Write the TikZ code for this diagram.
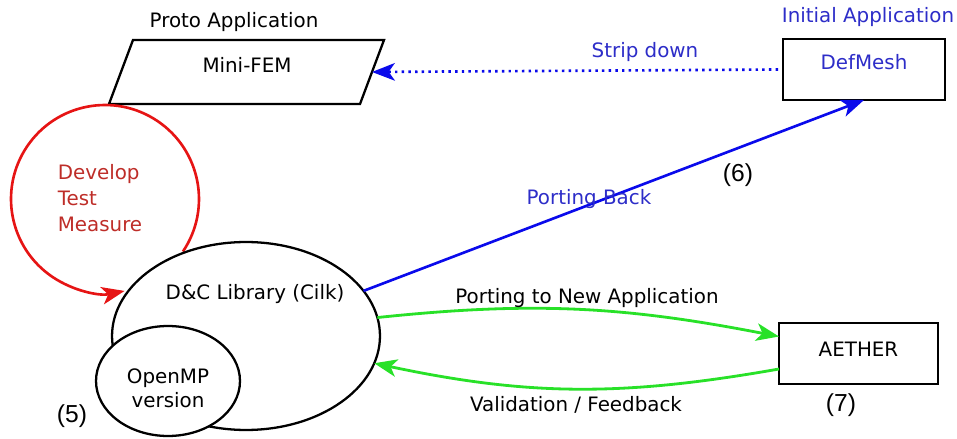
\documentclass[tikz,border=0pt]{standalone}
\usepackage{fontspec}
\setmainfont{DejaVu Sans}
\newfontfamily\numfont{Liberation Sans}
\usetikzlibrary{shapes.geometric,arrows.meta}
\definecolor{appblue}{RGB}{45,45,200}
\definecolor{arrblue}{RGB}{10,10,235}
\definecolor{devred}{RGB}{190,45,40}
\definecolor{loopred}{RGB}{230,20,20}
\definecolor{flowgreen}{RGB}{40,225,40}
\begin{document}
\begin{tikzpicture}[x=0.02cm,y=0.02cm,>={Stealth[length=13pt,width=10pt,inset=3.5pt]},
  line width=1.3pt,font=\fontsize{11.3}{13}\selectfont,
  appbox/.style={draw,rectangle,minimum height=1.22cm,inner sep=0pt,outer sep=0pt},
  libellipse/.style={draw,ellipse,fill=white,inner sep=0pt,outer sep=0pt},
  tag/.style={font=\numfont\fontsize{14}{16}\selectfont}]
  \useasboundingbox (0,0) rectangle (957,-439);

  % prototype: parallelogram drawn directly
  \coordinate (femA) at (133,-40);
  \coordinate (femB) at (384,-40);
  \coordinate (femC) at (360,-104);
  \coordinate (femD) at (109,-104);
  \coordinate (femright) at (372,-72);
  \draw (femA) -- (femB) -- (femC) -- (femD) -- cycle;
  \node (minifem) at (247,-65) {Mini-FEM};
  \node (proto) at (234,-22) {Proto Application};

  % initial application
  \node[appbox,minimum width=3.24cm,label={[text=appblue,yshift=0.15cm]center:DefMesh}] (defmesh) at (864,-69.5) {};
  \node[text=appblue] (initial) at (868,-17) {Initial Application};

  % strip down
  \draw[arrblue,->,line width=1.5pt,dash pattern=on 1.4pt off 2.4pt] ([xshift=-0.1cm]defmesh.west) -- (femright);
  \node[text=appblue] (strip) at (645,-52) {Strip down};

  % develop / test / measure loop
  \node[circle,minimum size=3.76cm,inner sep=0pt,outer sep=0pt] (devloop) at (105,-199) {};
  \draw[loopred,line width=1.5pt,->] (devloop.-34) arc[start angle=-34,end angle=282,radius=1.88cm];
  \node[text=devred,align=left,font=\fontsize{11.3}{14.7}\selectfont] (devtext) at (100,-198) {Develop\\Test\\Measure};

  % library
  \node[libellipse,minimum width=5.36cm,minimum height=3.76cm] (lib) at (246,-336) {};
  \node (libtext) at (255,-294) {D\&C Library (Cilk)};
  \node[libellipse,minimum width=2.88cm,minimum height=2.2cm] (openmp) at (168,-381) {};
  \node[align=center,font=\fontsize{11.3}{13.6}\selectfont] (openmptext) at (168,-388) {OpenMP\\version};
  \node[tag] (five) at (72,-416) {(5)};

  % porting back
  \draw[arrblue,->,line width=1.5pt] (lib.21) -- (defmesh.south);
  \node[text=appblue] (back) at (589,-199) {Porting Back};
  \node[tag] (six) at (738,-175) {(6)};

  % new application
  \node[appbox,minimum width=3.18cm,label={[yshift=0.09cm]center:AETHER}] (aether) at (858.5,-353.5) {};
  \node[tag] (seven) at (841,-405) {(7)};
  \draw[flowgreen,->,line width=1.6pt] (lib.8) to[out=6,in=169] ([yshift=0.34cm]aether.west);
  \draw[flowgreen,->,line width=1.6pt] ([yshift=-0.31cm]aether.west) to[out=190,in=-12] (lib.-12);
  \node (newapp) at (587,-298) {Porting to New Application};
  \node (feedback) at (576,-405) {Validation / Feedback};
\end{tikzpicture}
\end{document}
